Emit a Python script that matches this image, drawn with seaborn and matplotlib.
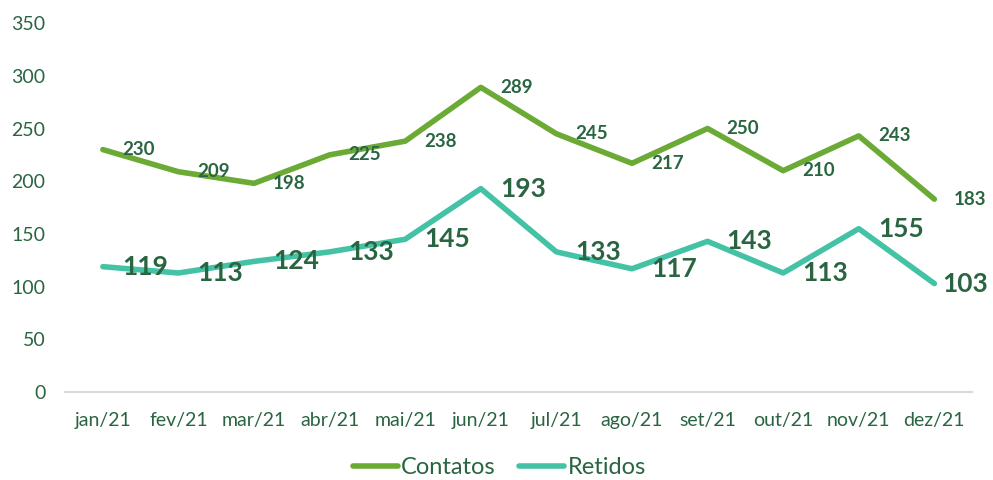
import pandas as pd
import seaborn as sns
import matplotlib.pyplot as plt

# monthly values
meses = ["jan/21", "fev/21", "mar/21", "abr/21", "mai/21", "jun/21",
         "jul/21", "ago/21", "set/21", "out/21", "nov/21", "dez/21"]
contatos = [230, 209, 198, 225, 238, 289, 245, 217, 250, 210, 243, 183]
retidos = [119, 113, 124, 133, 145, 193, 133, 117, 143, 113, 155, 103]

verde = "#6AAA35"
turquesa = "#44C2A5"
texto = "#2A6542"

df = pd.DataFrame({
    "mes": meses * 2,
    "valor": contatos + retidos,
    "serie": ["Contatos"] * len(meses) + ["Retidos"] * len(meses),
})

sns.set_style("white")
plt.rcParams["font.family"] = ["Lato", "DejaVu Sans"]

fig = plt.figure(figsize=(9.93, 4.8), dpi=100)
ax = fig.add_axes([0.0655, 0.183, 0.9135, 0.769])

sns.lineplot(data=df, x="mes", y="valor", hue="serie", sort=False,
             palette={"Contatos": verde, "Retidos": turquesa},
             linewidth=4, ax=ax, legend=False)
for ln in ax.lines:
    ln.set_solid_capstyle("round")
    ln.set_solid_joinstyle("round")

# data labels to the right of each point
for i, v in enumerate(contatos):
    ax.annotate(str(v), (i, v), xytext=(19, 0), textcoords="offset pixels",
                ha="left", va="center", fontsize=13.5, fontweight="bold", color=texto)
for i, v in enumerate(retidos):
    dx = 19 if i < len(retidos) - 1 else 8  # last label pulled in to fit
    ax.annotate(str(v), (i, v), xytext=(dx, 0), textcoords="offset pixels",
                ha="left", va="center", fontsize=19, fontweight="bold", color=texto)

ax.set_xlim(-0.5, len(meses) - 0.5)
ax.set_ylim(0, 350)
ax.set_yticks(range(0, 351, 50))
ax.set_xlabel("")
ax.set_ylabel("")
ax.tick_params(axis="both", length=0, labelsize=14, labelcolor=texto)
ax.tick_params(axis="x", pad=14)
ax.tick_params(axis="y", pad=14)
for s in ["top", "right", "left"]:
    ax.spines[s].set_visible(False)
ax.spines["bottom"].set_color("#D9D9D9")
ax.spines["bottom"].set_linewidth(1.5)

handles = [plt.Line2D([], [], color=verde, lw=4, solid_capstyle="round"),
           plt.Line2D([], [], color=turquesa, lw=4, solid_capstyle="round")]
leg = fig.legend(handles, ["Contatos", "Retidos"], loc="center",
                 bbox_to_anchor=(0.503, 0.025), ncol=2, frameon=False,
                 fontsize=17, handlelength=1.9, handletextpad=0.15, columnspacing=1.0)
for t in leg.get_texts():
    t.set_color(texto)

fig.savefig("out.png", dpi=100)
